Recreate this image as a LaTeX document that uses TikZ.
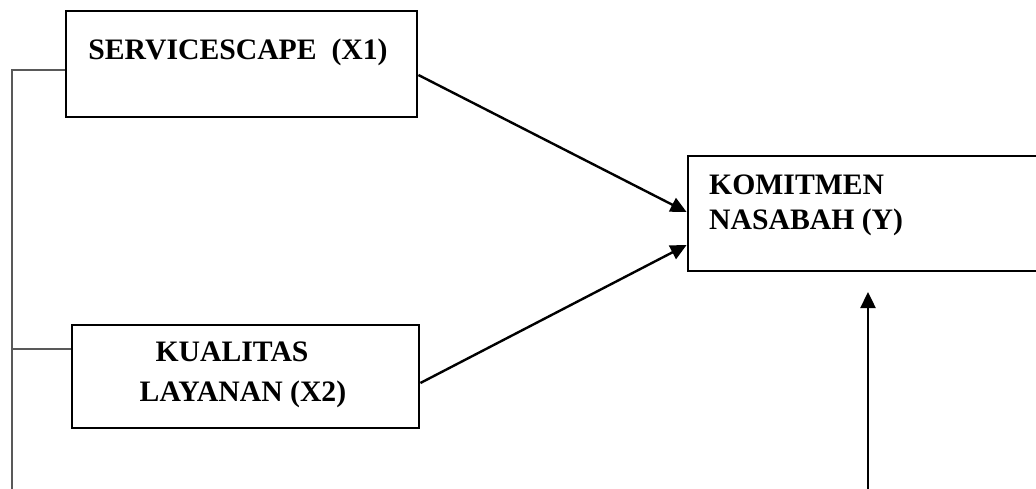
\documentclass[tikz,border=0pt]{standalone}
\usepackage{fontspec}
\setmainfont{Liberation Serif}
\usetikzlibrary{arrows.meta}
\tikzset{
  box/.style={draw=black, line width=2.8pt, rectangle, inner sep=0pt},
  lbl/.style={font=\bfseries\fontsize{29.7}{40}\selectfont, inner sep=0pt},
  arr/.style={line width=2.4pt, -{Triangle[length=16pt,width=15pt]}},
  thin/.style={draw=black!65, line width=1.4pt}
}
\begin{document}
\begin{tikzpicture}[x=1pt,y=-1pt]
\useasboundingbox (0,0) rectangle (1036,489);
\clip (0,0) rectangle (1036,489);
% boxes
\node[box, minimum width=351pt, minimum height=106pt] (x1) at (241.5,64) {};
\node[box, minimum width=347pt, minimum height=103pt] (x2) at (245.5,376.5) {};
\node[box, minimum width=357pt, minimum height=115pt] (y) at (866.5,213.5) {};
% texts
\node[lbl] (t1) at (238,52) {SERVICESCAPE\ \ (X1)};
\node[lbl] (t2a) at (232,352) {KUALITAS};
\node[lbl] (t2b) at (243,394) {LAYANAN (X2)};
\node[lbl, anchor=west] (t3a) at (709,185) {KOMITMEN};
\node[lbl, anchor=west] (t3b) at (709,222) {NASABAH (Y)};
% connectors
\draw[arr] ([yshift=-11pt]x1.east) -- ([yshift=1.5pt]y.west);
\draw[arr] ([yshift=-6.5pt]x2.east) -- ([yshift=-31.5pt]y.west);
\coordinate (vb) at (868,489);
\coordinate (vt) at (868,292);
\draw[arr] (vb) -- (vt);
\coordinate (lt) at (12,70);
\coordinate (lb) at (12,489);
\coordinate (x1l) at ([yshift=-6pt]x1.west);
\coordinate (x2l) at ([yshift=27.5pt]x2.west);
\draw[thin] (x1l) -- (lt) -- (lb);
\draw[thin] (x2l) -- (lb |- x2l);
\end{tikzpicture}
\end{document}
